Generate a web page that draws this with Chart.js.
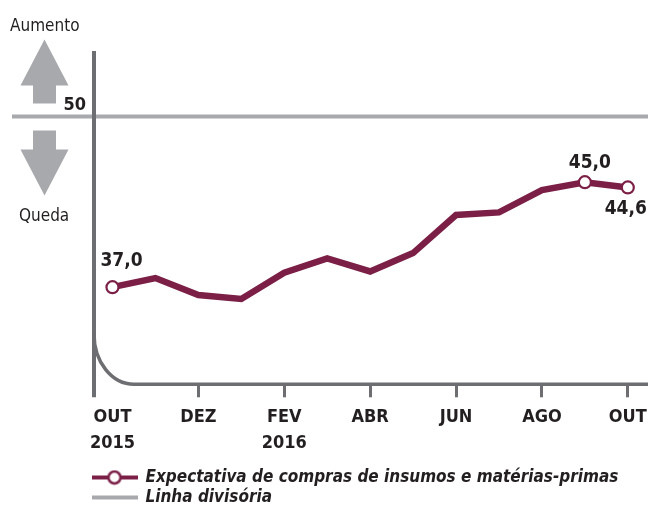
<!DOCTYPE html>
<html><head><meta charset="utf-8">
<script src="https://cdn.jsdelivr.net/npm/chart.js@4/dist/chart.umd.min.js"></script>
<style>html,body{margin:0;padding:0;background:#fff;}#wrap{width:648px;height:512px;}</style>
</head><body><div id="wrap"><canvas id="c" width="648" height="512"></canvas></div>
<script>
// ---- data ----
const months = ['OUT','NOV','DEZ','JAN','FEV','MAR','ABR','MAI','JUN','JUL','AGO','SET','OUT'];
const years  = ['2015','','','','2016','','','','','','','',''];
const values = [37.0, 37.7, 36.4, 36.1, 38.1, 39.2, 38.2, 39.6, 42.5, 42.7, 44.4, 45.0, 44.6];
const markedPoints = [0, 11, 12];
const tickPositions = [0, 2, 4, 6, 8, 10, 12];
const dividerValue = 50;
const seriesName = 'Expectativa de compras de insumos e matérias-primas';
const dividerName = 'Linha divisória';
const upLabel = 'Aumento';
const downLabel = 'Queda';

// ---- styles ----
const FONT = "'DejaVu Sans Condensed','Liberation Sans Narrow',sans-serif";
const MAROON = '#7b1f47';
const AXIS = '#6d6e71';
const LIGHT = '#a7a9ac';
const TEXT = '#231f20';

function legendIcon(withCircle, color) {
  const c = document.createElement('canvas');
  c.width = 46; c.height = 16;
  const g = c.getContext('2d');
  g.strokeStyle = color; g.lineWidth = 4;
  g.beginPath(); g.moveTo(0, 8); g.lineTo(46, 8); g.stroke();
  if (withCircle) {
    g.beginPath(); g.arc(23, 8, 6, 0, Math.PI * 2);
    g.fillStyle = '#fff'; g.fill();
    g.lineWidth = 2.5; g.strokeStyle = color; g.stroke();
  }
  return c;
}
const fmt = v => v.toFixed(1).replace('.', ',');

const decor = {
  id: 'decor',
  beforeDatasetsDraw(chart) {
    const {ctx, chartArea: a, scales: {x, y}} = chart;
    const y50 = y.getPixelForValue(dividerValue);
    ctx.save();
    // divider line
    ctx.strokeStyle = LIGHT; ctx.lineWidth = 4;
    ctx.beginPath(); ctx.moveTo(12, y50); ctx.lineTo(chart.width, y50); ctx.stroke();
    // arrows
    ctx.fillStyle = LIGHT;
    const ax = 44.5;
    ctx.beginPath();
    ctx.moveTo(ax, y50 - 77); ctx.lineTo(ax + 24, y50 - 31); ctx.lineTo(ax + 11.5, y50 - 31);
    ctx.lineTo(ax + 11.5, y50 - 13); ctx.lineTo(ax - 11.5, y50 - 13); ctx.lineTo(ax - 11.5, y50 - 31);
    ctx.lineTo(ax - 24, y50 - 31); ctx.closePath(); ctx.fill();
    ctx.beginPath();
    ctx.moveTo(ax, y50 + 79); ctx.lineTo(ax + 24, y50 + 33); ctx.lineTo(ax + 11.5, y50 + 33);
    ctx.lineTo(ax + 11.5, y50 + 14); ctx.lineTo(ax - 11.5, y50 + 14); ctx.lineTo(ax - 11.5, y50 + 33);
    ctx.lineTo(ax - 24, y50 + 33); ctx.closePath(); ctx.fill();
    // vertical axis
    const tl = x.options.grid.tickLength;
    ctx.strokeStyle = AXIS; ctx.lineWidth = 4;
    ctx.beginPath(); ctx.moveTo(a.left, a.top); ctx.lineTo(a.left, a.bottom + tl); ctx.stroke();
    // rounded corner + horizontal axis
    const rx = 40, ry = 50;
    ctx.lineWidth = 3.5;
    ctx.beginPath();
    ctx.ellipse(a.left + rx, a.bottom - ry, rx, ry, 0, Math.PI, Math.PI / 2, true);
    ctx.lineTo(a.right, a.bottom);
    ctx.stroke();
    // texts
    ctx.fillStyle = TEXT;
    ctx.textBaseline = 'alphabetic';
    ctx.font = `17px ${FONT}`;
    ctx.textAlign = 'left';
    ctx.fillText(upLabel, 10, y50 - 85.5);
    ctx.fillText(downLabel, 19, y50 + 104.5);
    ctx.font = `bold 18px ${FONT}`;
    ctx.textAlign = 'right';
    ctx.fillText(String(dividerValue), 86, y50 - 6.5);
    ctx.restore();
  },
  afterDatasetsDraw(chart) {
    const {ctx} = chart;
    const meta = chart.getDatasetMeta(0);
    ctx.save();
    ctx.fillStyle = TEXT;
    ctx.font = `bold 19px ${FONT}`;
    ctx.textAlign = 'center';
    ctx.textBaseline = 'alphabetic';
    const last = values.length - 1;
    markedPoints.forEach(i => {
      const p = meta.data[i];
      const t = fmt(values[i]);
      if (i === 0) ctx.fillText(t, p.x + 9, p.y - 21);
      else if (i === last) ctx.fillText(t, p.x - 2, p.y + 27);
      else ctx.fillText(t, p.x + 5, p.y - 14.5);
    });
    ctx.restore();
  }
};

new Chart(document.getElementById('c'), {
  type: 'line',
  data: {
    datasets: [{
      label: seriesName,
      data: values.map((v, i) => ({x: i, y: v})),
      borderColor: MAROON,
      borderWidth: 6.5,
      borderJoinStyle: 'miter',
      tension: 0,
      pointRadius: c => markedPoints.includes(c.dataIndex) ? 6 : 0,
      pointBackgroundColor: '#fff',
      pointBorderColor: MAROON,
      pointBorderWidth: 2.2,
      clip: false
    }]
  },
  plugins: [decor],
  options: {
    responsive: false,
    animation: false,
    devicePixelRatio: 1,
    layout: {autoPadding: false, padding: {left: 89, top: 51, right: 0, bottom: 0}},
    plugins: {
      tooltip: {enabled: false},
      legend: {
        position: 'bottom',
        align: 'start',
        maxHeight: 46,
        labels: {
          usePointStyle: true,
          pointStyleWidth: 45,
          padding: 3,
          color: TEXT,
          font: {family: FONT, size: 17, weight: 'bold', style: 'italic'},
          generateLabels: () => [
            {text: seriesName, pointStyle: legendIcon(true, MAROON), fillStyle: 'transparent', strokeStyle: 'transparent', lineWidth: 0, hidden: false, datasetIndex: 0, fontColor: TEXT},
            {text: dividerName, pointStyle: legendIcon(false, LIGHT), fillStyle: 'transparent', strokeStyle: 'transparent', lineWidth: 0, hidden: false, fontColor: TEXT}
          ]
        }
      }
    },
    scales: {
      x: {
        type: 'linear',
        min: -0.43,
        max: 12.47,
        afterBuildTicks: s => { s.ticks = tickPositions.map(v => ({value: v})); },
        afterFit: s => { s.height = 81.7; s.paddingRight = 0; s.paddingLeft = 0; },
        grid: {
          display: true,
          drawOnChartArea: false,
          drawTicks: true,
          tickLength: 13,
          tickWidth: 3,
          tickColor: c => (c.tick && c.tick.value === 0) ? 'rgba(0,0,0,0)' : AXIS
        },
        border: {display: false},
        ticks: {
          autoSkip: false,
          maxRotation: 0,
          padding: 6.5,
          color: TEXT,
          font: {family: FONT, size: 18, weight: 'bold', lineHeight: 1.48},
          callback: v => years[v] ? [months[v], years[v]] : months[v]
        }
      },
      y: {
        type: 'linear',
        min: 29.6,
        max: 55.0,
        afterFit: s => { s.width = 5; },
        grid: {display: false},
        border: {display: false},
        ticks: {display: false}
      }
    }
  }
});
</script>
</body></html>
